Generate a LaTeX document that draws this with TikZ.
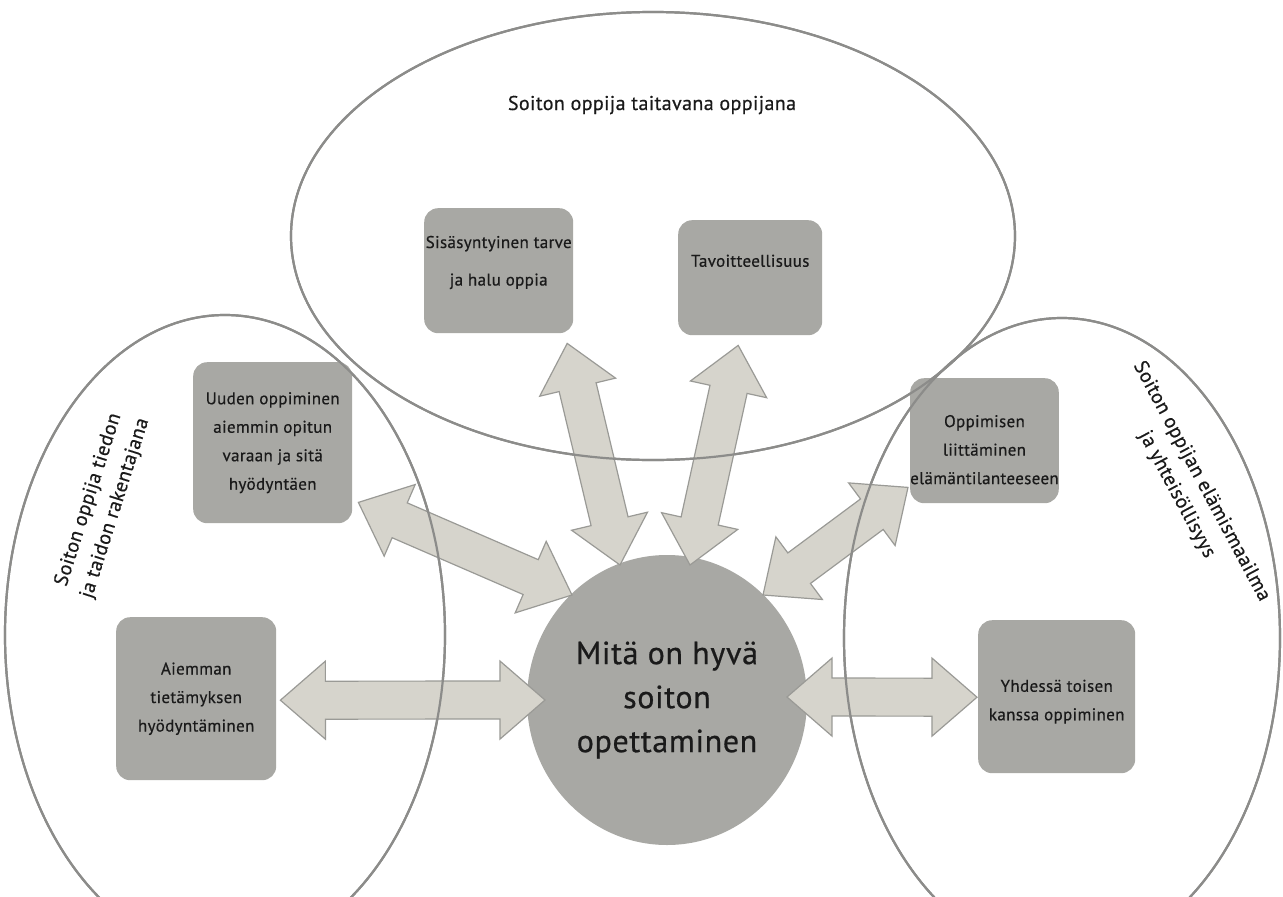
\documentclass[tikz,border=0pt]{standalone}
\usepackage{fontspec}
\setmainfont{PT Sans}
\newfontfamily\boxfont[LetterSpace=2,FakeBold=0.5]{PT Sans}
\newfontfamily\hubfont[LetterSpace=2,FakeBold=0.6]{PT Sans}
\usetikzlibrary{calc,shapes.geometric}

\definecolor{boxgrey}{HTML}{A8A8A4}
\definecolor{arrowfill}{HTML}{D6D4CC}
\definecolor{arrowline}{HTML}{9A9A96}
\definecolor{ringline}{HTML}{8C8C8A}
\definecolor{inkdark}{HTML}{1A1A1A}

\tikzset{
  ring/.style={ellipse, draw=ringline, line width=2.2pt, inner sep=0pt},
  topic/.style={rectangle, rounded corners=14pt, fill=boxgrey, inner sep=0pt,
    anchor=north west, align=center, text=inkdark,
    font=\boxfont\fontsize{17}{28.5}\selectfont},
  hub/.style={ellipse, fill=boxgrey, inner sep=0pt, align=center, text=inkdark,
    font=\hubfont\fontsize{32}{44}\selectfont},
  grouplabel/.style={align=center, text=inkdark, font=\boxfont\fontsize{20}{28}\selectfont},
  fatarrow/.style={fill=arrowfill, draw=arrowline, line width=1.2pt, line join=miter}
}

% invisible struts that move a box text up (depth) or down (height)
\newcommand\lowstrut[1]{\rule[-#1]{0pt}{1pt}}
\newcommand\highstrut[1]{\rule{0pt}{#1}}

% double-headed block arrow from one named point to another
\newcommand\blockarrow[2]{%
  \path let \p1=(#1), \p2=(#2) in
    \pgfextra{%
      \pgfmathparse{atan2(\y2-\y1,\x2-\x1)}\xdef\arrang{\pgfmathresult}%
      \pgfmathparse{veclen(\x2-\x1,\y2-\y1)}\xdef\arrlen{\pgfmathresult}%
    };
  \begin{scope}[shift={(#1)}, rotate=\arrang]
    \draw[fatarrow] (0,0) -- (45,39) -- (45,19) -- ({\arrlen-45},19)
      -- ({\arrlen-45},39) -- (\arrlen,0) -- ({\arrlen-45},-39)
      -- ({\arrlen-45},-19) -- (45,-19) -- (45,-39) -- cycle;
  \end{scope}}

\begin{document}
\begin{tikzpicture}[x=1pt,y=-1pt]
  \useasboundingbox[fill=white] (0,0) rectangle (1283,897);

  % the three overlapping regions
  \node[ring, minimum width=724pt, minimum height=448pt] (ringtop) at (653,236) {};
  \node[ring, minimum width=440pt, minimum height=640pt] (ringleft) at (225,635) {};
  \node[ring, minimum width=436pt, minimum height=640pt] (ringright) at (1062,638) {};

  % topic boxes
  \node[topic, minimum width=149pt, minimum height=125pt] (sis) at (424,208)
    {Sisäsyntyinen tarve\\[9pt]ja halu oppia\lowstrut{20pt}};
  \node[topic, minimum width=144pt, minimum height=115pt] (tav) at (678,220)
    {Tavoitteellisuus\lowstrut{34pt}};
  \node[topic, minimum width=159pt, minimum height=161pt] (uud) at (193,362)
    {Uuden oppiminen\\aiemmin opitun\\varaan ja sitä\\hyödyntäen};
  \node[topic, minimum width=160pt, minimum height=163pt] (aie) at (116,617)
    {Aiemman\\tietämyksen\\hyödyntäminen};
  \node[topic, minimum width=144pt, minimum height=125pt] (opp) at (910,378)
    {\highstrut{30pt}Oppimisen\\liittäminen\\elämäntilanteeseen};
  \node[topic, minimum width=157pt, minimum height=153pt] (yhd) at (978,620)
    {\highstrut{22pt}Yhdessä toisen\\kanssa oppiminen};

  % central question
  \node[hub, minimum width=280pt, minimum height=290pt] (hub) at (667,700)
    {Mitä on hyvä\\soiton\\opettaminen};

  % arrow end points
  \coordinate (a1s) at ($(sis.south)+(68.5,10)$);
  \coordinate (a1h) at ($(hub.center)+(-47,-135)$);
  \coordinate (a2s) at ($(tav.south)+(-12,10)$);
  \coordinate (a2h) at ($(hub.center)+(23,-135)$);
  \coordinate (a3s) at ($(uud.south east)+(6,-21)$);
  \coordinate (a3h) at ($(hub.center)+(-95,-105)$);
  \coordinate (a4s) at ($(opp.south west)+(-2,-16)$);
  \coordinate (a4h) at ($(hub.center)+(96,-105)$);
  \coordinate (a5s) at ($(aie.east)+(4,1.5)$);
  \coordinate (a5h) at ($(hub.center)+(-122,0)$);
  \coordinate (a6h) at ($(hub.center)+(120,-3)$);
  \coordinate (a6s) at ($(yhd.west)+(-1,0.5)$);

  \blockarrow{a1s}{a1h}
  \blockarrow{a2s}{a2h}
  \blockarrow{a3s}{a3h}
  \blockarrow{a4s}{a4h}
  \blockarrow{a5s}{a5h}
  \blockarrow{a6h}{a6s}

  % region outlines again over the arrows
  \node[ring, minimum width=724pt, minimum height=448pt] at (ringtop.center) {};
  \node[ring, minimum width=440pt, minimum height=640pt] at (ringleft.center) {};
  \node[ring, minimum width=436pt, minimum height=640pt] at (ringright.center) {};

  % region titles
  \node[grouplabel, font=\boxfont\fontsize{20}{22}\selectfont] (toptitle) at (652,105)
    {Soiton oppija taitavana oppijana};
  \node[grouplabel, rotate=72.4] (lefttitle) at (102,504)
    {Soiton oppija tiedon\\ja taidon rakentajana};
  \node[grouplabel, rotate=-61.8] (righttitle) at (1189,488)
    {Soiton oppijan elämismaailma\\ja yhteisöllisyys};
\end{tikzpicture}
\end{document}
